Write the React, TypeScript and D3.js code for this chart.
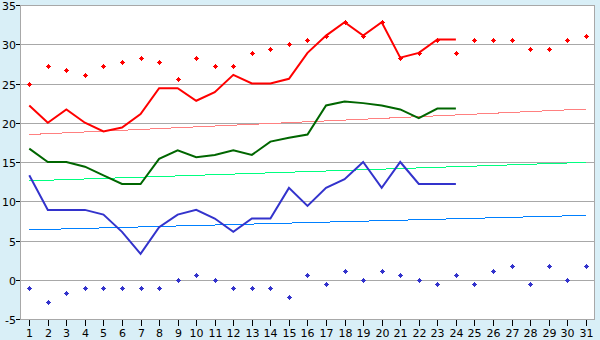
import React from "react";
import * as d3 from "d3";

const days = d3.range(1, 32);
const yTicks = [-5, 0, 5, 10, 15, 20, 25, 30, 35];

const recordHigh = [25.0, 27.2, 26.7, 26.1, 27.2, 27.8, 28.3, 27.8, 25.6, 28.3, 27.2, 27.2, 28.9, 29.4, 30.0, 30.6, 31.1, 32.8, 31.1, 32.8, 28.3, 28.9, 30.6, 28.9, 30.6, 30.6, 30.6, 29.4, 29.4, 30.6, 31.1];
const highTemps = [22.2, 20.0, 21.7, 20.0, 18.9, 19.4, 21.1, 24.4, 24.4, 22.8, 23.9, 26.1, 25.0, 25.0, 25.6, 28.9, 31.1, 32.8, 31.1, 32.8, 28.3, 28.9, 30.6, 30.6];
const meanTemps = [16.7, 15.0, 15.0, 14.4, 13.3, 12.2, 12.2, 15.4, 16.5, 15.6, 15.9, 16.5, 15.9, 17.6, 18.1, 18.5, 22.2, 22.7, 22.5, 22.2, 21.7, 20.6, 21.8, 21.8];
const lowTemps = [13.3, 8.9, 8.9, 8.9, 8.3, 6.1, 3.3, 6.7, 8.3, 8.9, 7.8, 6.1, 7.8, 7.8, 11.7, 9.4, 11.7, 12.8, 15.0, 11.7, 15.0, 12.2, 12.2, 12.2];
const recordLow = [-1.1, -2.8, -1.7, -1.1, -1.1, -1.1, -1.1, -1.1, 0.0, 0.6, 0.0, -1.1, -1.1, -1.1, -2.2, 0.6, -0.6, 1.1, 0.0, 1.1, 0.6, 0.0, -0.6, 0.6, -0.6, 1.1, 1.7, -0.6, 1.7, 0.0, 1.7];
// trend lines: value at day 1 and day 31
const normalHighTrend = [18.5, 21.75];
const normalMeanTrend = [12.6, 14.95];
const normalLowTrend = [6.36, 8.2];

const W = 600, H = 340;
const L = 20, R = 595, T = 5, B = 319;

export default function App() {
  const x = d3.scaleBand<number>().domain(days).range([L, R]).padding(0);
  const y = d3.scaleLinear().domain([-5, 35]).range([B, T]);
  const cx = (d: number) => (x(d) as number) + x.bandwidth() / 2;

  const line = d3
    .line<number>()
    .x((_, i) => cx(days[i]))
    .y((v) => y(v));

  const trend = (ends: number[]) =>
    d3
      .line<number>()
      .x((_, i) => cx(i === 0 ? days[0] : days[days.length - 1]))
      .y((v) => y(v))(ends) as string;

  const marker = (px: number, py: number) => {
    const X = Math.round(px) + 0.5, Y = Math.round(py) + 0.5;
    return `M${X - 0.5},${Y - 2.5}h1v1h1v1h1v1h-1v1h-1v1h-1v-1h-1v-1h-1v-1h1v-1h1z`;
  };

  const fontFamily = "'DejaVu Sans', Verdana, sans-serif";

  return (
    <div style={{ position: "fixed", left: 0, top: 0 }}>
      <svg width={W} height={H} style={{ display: "block" }}>
        <rect x={0} y={0} width={W} height={H} fill="#D9EFF7" />
        <rect x={L} y={T} width={R - L} height={B - T} fill="#FFFFFF" />
        {yTicks.map((t) => (
          <g key={t}>
            <line x1={L} x2={R} y1={Math.round(y(t)) + 0.5} y2={Math.round(y(t)) + 0.5} stroke="#A8A8A8" strokeWidth={1} />
            <line x1={L - 4} x2={L} y1={Math.round(y(t)) + 0.5} y2={Math.round(y(t)) + 0.5} stroke="#000" strokeWidth={1} />
            <text x={L - 4} y={Math.round(y(t)) + 4.5} textAnchor="end" fontFamily={fontFamily} fontSize={11} fill="#000">
              {t}
            </text>
          </g>
        ))}
        <rect x={L + 0.5} y={T + 0.5} width={R - L - 1} height={B - T} fill="none" stroke="#A8A8A8" strokeWidth={1} />
        <line x1={L + 0.5} x2={L + 0.5} y1={T} y2={B + 1} stroke="#A8A8A8" />
        {days.map((d) => (
          <g key={d}>
            <line x1={Math.round(cx(d)) + 0.5} x2={Math.round(cx(d)) + 0.5} y1={B + 1} y2={B + 7} stroke="#000" strokeWidth={1} />
            <text x={Math.round(cx(d)) + 0.5} y={337} textAnchor="middle" fontFamily={fontFamily} fontSize={11} fill="#000">
              {d}
            </text>
          </g>
        ))}

        <path d={trend(normalHighTrend)} fill="none" stroke="#FF8080" strokeWidth={1} shapeRendering="crispEdges" />
        <path d={trend(normalMeanTrend)} fill="none" stroke="#00FF80" strokeWidth={1} shapeRendering="crispEdges" />
        <path d={trend(normalLowTrend)} fill="none" stroke="#0080FF" strokeWidth={1} shapeRendering="crispEdges" />

        <path d={line(highTemps) as string} fill="none" stroke="#FF0000" strokeWidth={2} />
        <path d={line(meanTemps) as string} fill="none" stroke="#006600" strokeWidth={2} />
        <path d={line(lowTemps) as string} fill="none" stroke="#3333CC" strokeWidth={2} />

        {recordHigh.map((v, i) => (
          <path key={"rh" + i} d={marker(cx(days[i]), y(v))} fill="#FF0000" shapeRendering="crispEdges" />
        ))}
        {recordLow.map((v, i) => (
          <path key={"rl" + i} d={marker(cx(days[i]), y(v))} fill="#3333CC" shapeRendering="crispEdges" />
        ))}
      </svg>
    </div>
  );
}
